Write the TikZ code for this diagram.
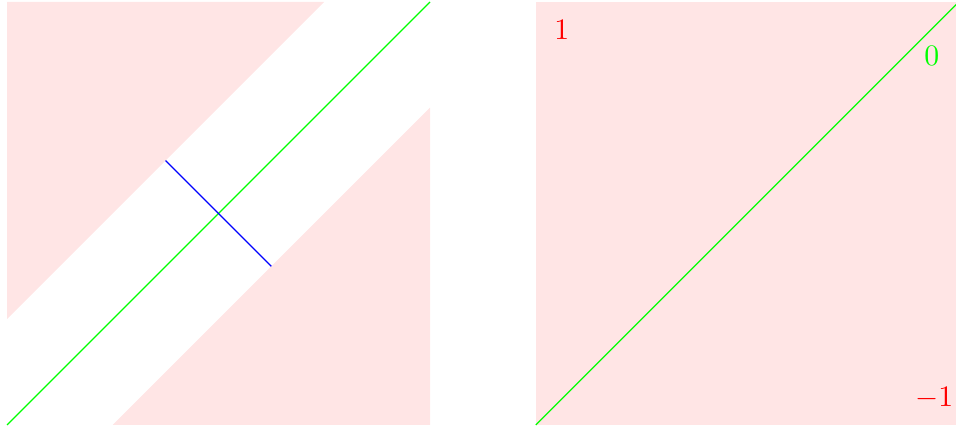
\documentclass[tikz,border=0pt]{standalone}
\begin{document}
\begin{tikzpicture}[x=5cm,y=5cm,
  region/.style={fill=red!10,draw=none},
  diag/.style={draw=green,line width=0.4pt},
  cross/.style={draw=blue,line width=0.4pt},
  lab/.style={inner sep=0pt}]
\useasboundingbox (-0.01655,-0.0118) rectangle (2.2435,1.0047);
% left square
\fill[region] (0,1) -- (0.75,1) -- (0,0.25) -- cycle;
\fill[region] (1,0) -- (1,0.75) -- (0.25,0) -- cycle;
\coordinate (a0) at (0,0);
\coordinate (a1) at (1,1);
\draw[diag] (a0) -- (a1);
\coordinate (b0) at (0.375,0.625);
\coordinate (b1) at (0.625,0.375);
\draw[cross] (b0) -- (b1);
% right square
\fill[region] (1.25,0) rectangle (2.25,1);
\coordinate (c0) at (1.25,0);
\coordinate (c1) at (2.25,1);
\draw[diag] (c0) -- (c1);
\node[lab,text=red] (one) at (1.3115,0.934) {$1$};
\node[lab,text=green] (zero) at (2.186,0.872) {$0$};
\node[lab,text=red] (mone) at (2.192,0.064) {$-1$};
\end{tikzpicture}
\end{document}
